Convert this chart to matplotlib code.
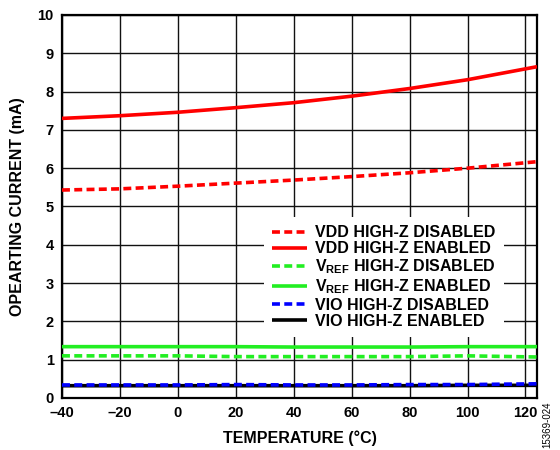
import matplotlib
matplotlib.use("Agg")
import matplotlib.pyplot as plt

plt.rcParams['font.family'] = ['Liberation Sans', 'DejaVu Sans']
plt.rcParams['font.weight'] = 'bold'
plt.rcParams['mathtext.fontset'] = 'custom'
plt.rcParams['mathtext.rm'] = 'Liberation Sans:bold'
plt.rcParams['mathtext.bf'] = 'Liberation Sans:bold'
plt.rcParams['mathtext.it'] = 'Liberation Sans:bold'

temperature = [-40, -20, 0, 20, 40, 60, 80, 100, 124]
vdd_disabled = [5.43, 5.46, 5.53, 5.61, 5.69, 5.78, 5.88, 6.00, 6.17]
vdd_enabled = [7.30, 7.37, 7.46, 7.58, 7.71, 7.88, 8.08, 8.31, 8.65]
vref_disabled = [1.10, 1.10, 1.10, 1.08, 1.08, 1.08, 1.08, 1.10, 1.07]
vref_enabled = [1.34, 1.34, 1.34, 1.34, 1.33, 1.33, 1.33, 1.34, 1.34]
vio_disabled = [0.34, 0.34, 0.34, 0.35, 0.34, 0.34, 0.35, 0.35, 0.37]
vio_enabled = [0.32, 0.32, 0.32, 0.32, 0.32, 0.32, 0.32, 0.33, 0.33]

x_ticks = [-40, -20, 0, 20, 40, 60, 80, 100, 120]
y_ticks = list(range(0, 11))

series = [
    (vdd_disabled, '#ff0000', (0, (2.2, 1.2)), 'VDD HIGH-Z DISABLED'),
    (vdd_enabled, '#ff0000', '-', 'VDD HIGH-Z ENABLED'),
    (vref_disabled, '#22ee22', (0, (2.2, 1.2)), r'V$_{\mathrm{REF}}$ HIGH-Z DISABLED'),
    (vref_enabled, '#22ee22', '-', r'V$_{\mathrm{REF}}$ HIGH-Z ENABLED'),
    (vio_disabled, '#0000ff', (0, (2.2, 1.2)), 'VIO HIGH-Z DISABLED'),
    (vio_enabled, '#000000', '-', 'VIO HIGH-Z ENABLED'),
]

fig = plt.figure(figsize=(5.6, 4.5), dpi=100)
ax = fig.add_axes([0.1107, 0.1156, 0.8483, 0.8511])

# draw enabled VIO first so the dashed blue sits on top of it
order = [5, 1, 0, 3, 2, 4]
handles = {}
for i in order:
    vals, col, ls, lab = series[i]
    ln, = ax.plot(temperature, vals, color=col, linestyle=ls, linewidth=2.6,
                  label=lab, solid_capstyle='butt', dash_capstyle='butt', zorder=3)
    handles[i] = ln

ax.set_xlim(-40, 124)
ax.set_ylim(0, 10)
ax.set_xticks(x_ticks)
ax.set_yticks(y_ticks)
ax.set_xticklabels([str(t).replace('-', '\u2013') for t in x_ticks])
ax.grid(True, color='#111111', linewidth=1.0)
ax.set_axisbelow(True)
ax.tick_params(length=0, labelsize=10.5, pad=6)
for lab in ax.get_xticklabels() + ax.get_yticklabels():
    lab.set_fontweight('bold')
for sp in ax.spines.values():
    sp.set_linewidth(1.6)
    sp.set_color('black')

ax.set_xlabel('TEMPERATURE (°C)', fontsize=11.5, fontweight='bold', labelpad=7)
ax.set_ylabel('OPEARTING CURRENT (mA)', fontsize=11.5, fontweight='bold', labelpad=9)

leg = ax.legend([handles[i] for i in range(6)], [s[3] for s in series],
                loc='upper left', bbox_to_anchor=(0.425, 0.473),
                fontsize=11.5, frameon=True, framealpha=1.0, edgecolor='none',
                fancybox=False, borderpad=0.52, borderaxespad=0,
                handlelength=2.2, handletextpad=0.5, labelspacing=0.08)
leg.get_frame().set_facecolor('white')
for t in leg.get_texts():
    t.set_fontweight('bold')

fig.text(0.978, 0.055, '15369-024', rotation=90, fontsize=7, fontweight='normal',
         ha='center', va='center')

fig.savefig('out.png', dpi=100)
